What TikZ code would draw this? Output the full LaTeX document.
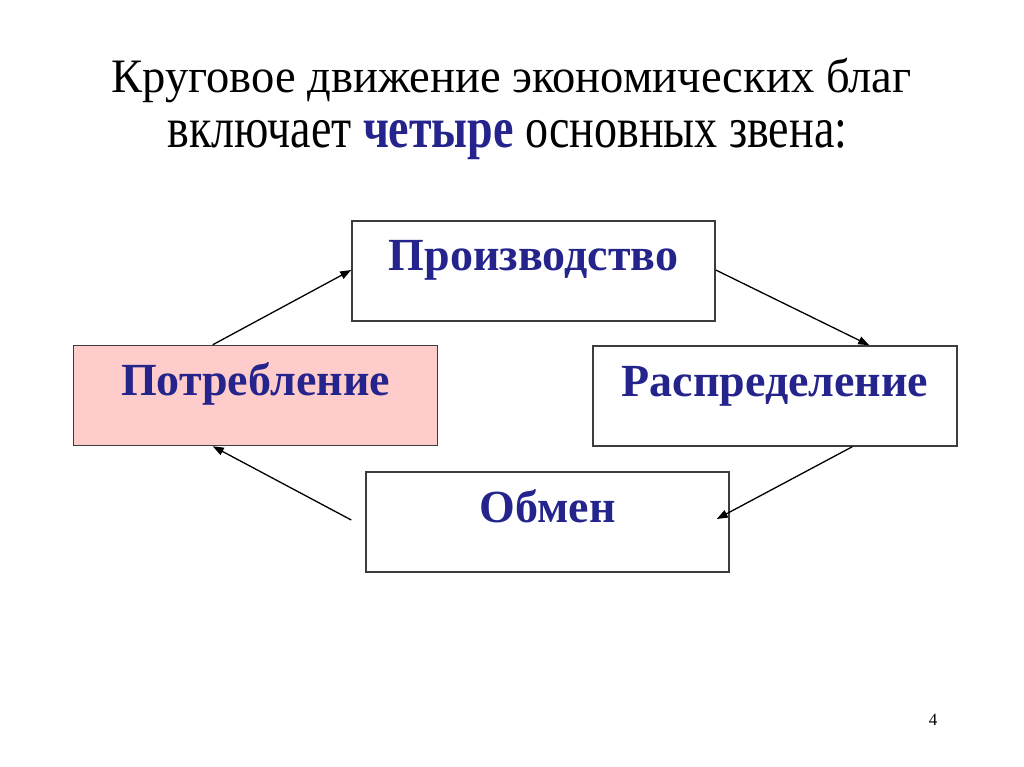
\documentclass[tikz,border=0pt]{standalone}
\usepackage{fontspec}
\setmainfont{Liberation Serif}
\newfontfamily\titlefontA[FakeStretch=0.97]{Liberation Serif}
\newfontfamily\titlefontB[FakeStretch=0.80]{Liberation Serif}
\usetikzlibrary{arrows.meta,calc}
\definecolor{navy}{RGB}{36,36,140}
\definecolor{pinkfill}{RGB}{255,204,204}
\definecolor{edge}{RGB}{60,60,60}
\tikzset{
  box/.style={draw=edge, line width=1.5pt, minimum width=363pt, minimum height=100pt, inner sep=0pt},
  lbl/.style={anchor=base, text=navy, font=\fontsize{46}{52}\selectfont\bfseries, inner sep=0pt},
  conn/.style={draw=black, line width=1.3pt, -{Triangle[length=11pt,width=8pt]}},
  ttl/.style={inner sep=0pt, anchor=base}
}
\begin{document}
\begin{tikzpicture}[x=1pt,y=-1pt]
\useasboundingbox[fill=white] (0,0) rectangle (1024,767);
\node[ttl, font=\titlefontA\fontsize{48}{55}\selectfont] (t1) at (511.5,93) {Круговое движение экономических благ};
\node[ttl, font=\titlefontB\fontsize{57.5}{66}\selectfont] (t2) at (507.5,148) {включает \textcolor{navy}{\bfseries четыре} основных звена:};
\node[box] (prod) at (533.5,271) {};
\node[box, fill=pinkfill, minimum width=364pt] (potr) at (255.5,395.5) {};
\node[box, minimum width=364pt] (rasp) at (775,396) {};
\node[box] (obm) at (547.5,522) {};
\node[lbl] (prodT) at ($(prod.center)+(0,-1)$) {Производство};
\node[lbl] (potrT) at (potr.center) {Потребление};
\node[lbl] (raspT) at (rasp.center) {Распределение};
\node[lbl] (obmT) at (obm.center) {Обмен};
\coordinate (oL) at ($(obm.west)+(-14,-2)$);
\draw[conn] ($(potr.north west)+(140,0)$) -- ($(prod.west)+(0,-1)$);
\draw[conn] ($(prod.east)+(0,-1)$) -- ($(rasp.north west)+(277,0)$);
\draw[conn] ($(rasp.south west)+(260,0)$) -- ($(obm.east)+(-13,-3)$);
\draw[conn] (oL) -- ($(potr.south west)+(140,0)$);
\node[font=\fontsize{17}{20}\selectfont, anchor=base] (pg) at (933,725) {4};
\end{tikzpicture}
\end{document}
